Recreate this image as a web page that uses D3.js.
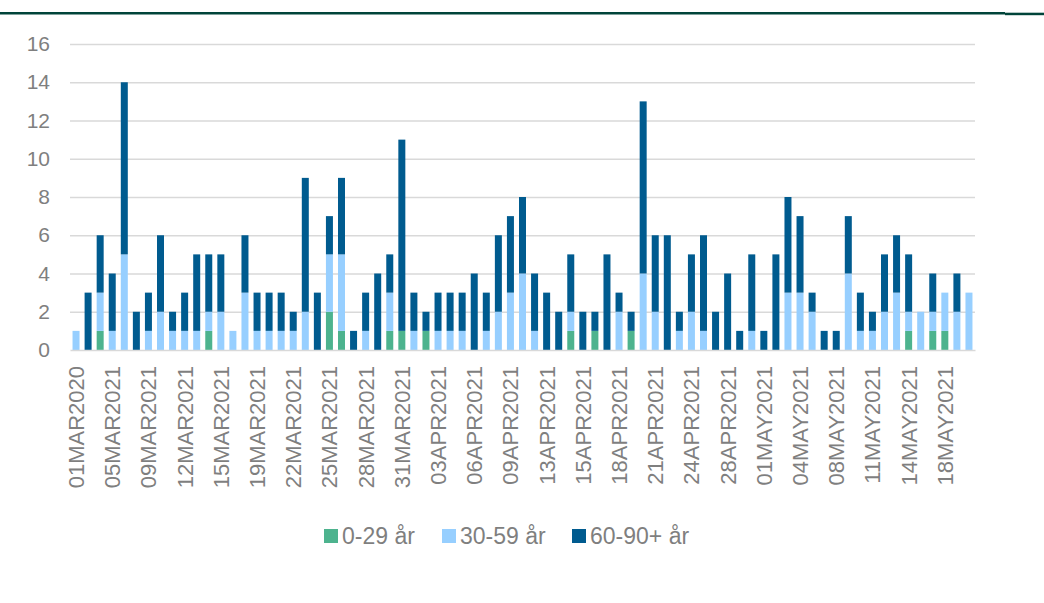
<!DOCTYPE html>
<html>
<head>
<meta charset="utf-8">
<script src="https://cdn.jsdelivr.net/npm/d3@7"></script>
<style>
  body { margin: 0; background: #fff; }
  svg { display: block; font-family: "Liberation Sans", Arial, sans-serif; }
</style>
</head>
<body>
<svg id="chart"></svg>
<script>
// one label is shown for every third bar
const tickLabels = ['01MAR2020', '05MAR2021', '09MAR2021', '12MAR2021', '15MAR2021', '19MAR2021',
  '22MAR2021', '25MAR2021', '28MAR2021', '31MAR2021', '03APR2021', '06APR2021', '09APR2021',
  '13APR2021', '15APR2021', '18APR2021', '21APR2021', '24APR2021', '28APR2021', '01MAY2021',
  '04MAY2021', '08MAY2021', '11MAY2021', '14MAY2021', '18MAY2021'];
const labelEvery = 3;

const seriesNames = ['0-29 år', '30-59 år', '60-90+ år'];
const seriesColors = ['#4DB38E', '#97CFFF', '#005B8F'];

const age0_29 = [0,0,1,0,0,0,0,0,0,0, 0,1,0,0,0,0,0,0,0,0, 0,2,1,0,0,0,1,1,0,1,
  0,0,0,0,0,0,0,0,0,0, 0,1,0,1,0,0,1,0,0,0, 0,0,0,0,0,0,0,0,0,0,
  0,0,0,0,0,0,0,0,0,1, 0,1,1,0,0];
const age30_59 = [1,0,2,1,5,0,1,2,1,1, 1,1,2,1,3,1,1,1,1,2, 0,3,4,0,1,0,2,0,1,0,
  1,1,1,0,1,2,3,4,1,0, 0,1,0,0,0,2,0,4,2,0, 1,2,1,0,0,0,1,0,0,3,
  3,2,0,0,4,1,1,2,3,1, 2,1,2,2,3];
const age60_90 = [0,3,3,3,9,2,2,4,1,2, 4,3,3,0,3,2,2,2,1,7, 3,2,4,1,2,4,2,10,2,1,
  2,2,2,4,2,4,4,4,3,3, 2,3,2,1,5,1,1,9,4,6, 1,3,5,2,4,1,4,1,5,5,
  4,1,1,1,3,2,1,3,3,3, 0,2,0,2,0];

const yTicks = [0, 2, 4, 6, 8, 10, 12, 14, 16];

class StackedBarChart {
  constructor(_config) {
    this.config = {
      parentElement: _config.parentElement,
      containerWidth: _config.containerWidth || 1044,
      containerHeight: _config.containerHeight || 603,
      margin: _config.margin || {top: 44, right: 69, bottom: 253, left: 70}
    };
    this.initVis();
  }

  initVis() {
    let vis = this;
    vis.width = vis.config.containerWidth - vis.config.margin.left - vis.config.margin.right;
    vis.height = vis.config.containerHeight - vis.config.margin.top - vis.config.margin.bottom;

    vis.svg = d3.select(vis.config.parentElement)
        .attr('width', vis.config.containerWidth)
        .attr('height', vis.config.containerHeight);

    // dark rule along the top of the slide
    vis.svg.append('rect').attr('x', 0).attr('y', 12).attr('width', 1005).attr('height', 2.5).attr('fill', '#00443A');
    vis.svg.append('rect').attr('x', 1005).attr('y', 12.7).attr('width', 39).attr('height', 2.5).attr('fill', '#00443A');

    vis.chart = vis.svg.append('g')
        .attr('transform', `translate(${vis.config.margin.left},${vis.config.margin.top})`);

    vis.xScale = d3.scaleBand()
        .domain(d3.range(age0_29.length))
        .range([0, vis.width])
        .paddingInner(0.42)
        .paddingOuter(0.21);

    vis.yScale = d3.scaleLinear()
        .domain([0, 16])
        .range([vis.height, 0]);

    vis.colorScale = d3.scaleOrdinal().domain(seriesNames).range(seriesColors);

    vis.updateVis();
  }

  updateVis() {
    let vis = this;
    vis.data = age0_29.map((v, i) => ({
      idx: i,
      [seriesNames[0]]: v,
      [seriesNames[1]]: age30_59[i],
      [seriesNames[2]]: age60_90[i]
    }));
    vis.stacked = d3.stack().keys(seriesNames)(vis.data);
    vis.renderVis();
  }

  renderVis() {
    let vis = this;

    // gridlines
    vis.chart.append('g')
        .call(d3.axisLeft(vis.yScale).tickValues(yTicks.slice(1)).tickSize(-vis.width).tickFormat(''))
        .call(g => g.select('.domain').remove())
        .selectAll('line')
        .attr('stroke', '#D9D9D9')
        .attr('stroke-width', 1.5);

    // y labels
    vis.chart.append('g')
        .call(d3.axisLeft(vis.yScale).tickValues(yTicks).tickSize(0).tickPadding(20))
        .call(g => g.select('.domain').remove())
        .selectAll('text')
        .attr('fill', '#7F7F7F')
        .style('font-size', '21px');

    // bars
    vis.chart.selectAll('.layer')
        .data(vis.stacked)
        .join('g')
        .attr('class', 'layer')
        .attr('fill', d => vis.colorScale(d.key))
      .selectAll('rect')
        .data(d => d.filter(s => s[1] > s[0]))
        .join('rect')
        .attr('x', d => vis.xScale(d.data.idx))
        .attr('width', vis.xScale.bandwidth())
        .attr('y', d => vis.yScale(d[1]))
        .attr('height', d => vis.yScale(d[0]) - vis.yScale(d[1]));

    // x axis
    const xAxisG = vis.chart.append('g')
        .attr('transform', `translate(0,${vis.height})`)
        .call(d3.axisBottom(vis.xScale)
          .tickValues(d3.range(0, age0_29.length, labelEvery))
          .tickSize(0)
          .tickFormat(i => tickLabels[i / labelEvery]));
    xAxisG.select('.domain').attr('stroke', '#D9D9D9').attr('stroke-width', 1.5);
    xAxisG.selectAll('text')
        .attr('fill', '#7F7F7F')
        .style('font-size', '22px')
        .attr('transform', 'rotate(-90)')
        .attr('x', -16)
        .attr('y', 0)
        .attr('dy', '0.36em')
        .style('text-anchor', 'end');

    // legend
    const legend = vis.svg.append('g').attr('transform', 'translate(324,529)');
    const offsets = [0, 118, 248];
    seriesNames.forEach((name, i) => {
      const g = legend.append('g').attr('transform', `translate(${offsets[i]},0)`);
      g.append('rect').attr('width', 14).attr('height', 14).attr('fill', seriesColors[i]);
      g.append('text')
          .attr('x', 18)
          .attr('y', 7)
          .attr('dy', '0.36em')
          .attr('fill', '#7F7F7F')
          .style('font-size', '23px')
          .text(name);
    });
  }
}

new StackedBarChart({parentElement: '#chart'});
</script>
</body>
</html>
